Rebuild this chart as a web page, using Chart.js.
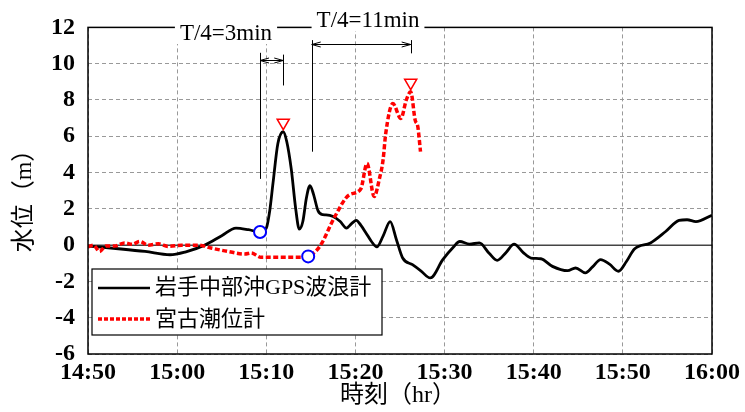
<!DOCTYPE html>
<html lang="ja">
<head>
<meta charset="UTF-8">
<title>水位 時系列</title>
<style>
  body { margin: 0; background: #fff; }
  canvas { display: block; }
</style>
</head>
<body>
<canvas id="wave-chart" width="745" height="412"></canvas>
<script src="https://cdn.jsdelivr.net/npm/chart.js"></script>
<script>
// time axis: minutes after 14:50
const xTickLabels = ['14:50', '15:00', '15:10', '15:20', '15:30', '15:40', '15:50', '16:00'];

// 岩手中部沖GPS波浪計
const gpsTime = [0, 3.4, 6.4, 9.2, 10.9, 13.1, 15, 16.6, 18, 19.3, 20, 20.4, 20.75, 21.3, 21.9, 22.3, 22.8, 23.3, 23.7,
  24.1, 24.5, 24.9, 25.3, 25.8, 26.3, 26.7, 27.5, 28.3, 29, 29.6, 30.1, 30.6, 31.2, 31.8, 32.4, 33.1, 33.9, 34.6, 35.3,
  36.4, 37.3, 38.4, 39.8, 41, 41.7, 42.8, 43.9, 45, 45.9, 46.9, 47.8, 48.8, 49.7, 50.8, 52.1, 53.8, 54.7, 55.8, 56.6,
  57.5, 58.5, 59.5, 60.4, 61.3, 63.1, 64.8, 66.3, 67.2, 68.2, 70];
const gpsLevel = [-0.05, -0.2, -0.35, -0.53, -0.38, 0, 0.52, 0.94, 0.85, 0.72, 0.94, 1.94, 3.4, 5.6, 6.25, 5.7, 4.2, 2.0, 0.88,
  1.3, 2.6, 3.28, 2.8, 1.9, 1.68, 1.67, 1.58, 1.3, 0.94, 1.2, 1.36, 1.1, 0.66, 0.2, -0.1, 0.5, 1.3, 0.3, -0.71,
  -1.08, -1.4, -1.81, -0.8, -0.1, 0.2, 0.06, 0.12, -0.45, -0.84, -0.4, 0.06, -0.4, -0.71, -0.75, -1.17, -1.41, -1.26, -1.53, -1.2,
  -0.8, -1.05, -1.44, -0.9, -0.21, 0.12, 0.75, 1.36, 1.4, 1.3, 1.65];

// 宮古潮位計
const tideTime = [0, 0.6, 1.3, 2.0, 3.0, 4.1, 5.0, 5.8, 6.75, 7.9, 9.0, 10.5, 12.4, 13.8, 15.7, 17.6, 18.3, 19.4, 24.0,
  24.7, 26.0, 27.7, 29.3, 30.6, 31.3, 32.1, 32.7, 33.1, 33.4, 34.2, 35.1, 35.7, 36.2, 36.7, 37.0, 37.3];
const tideLevel = [-0.1, 0, -0.35, -0.05, -0.05, 0.12, 0.05, 0.2, 0, 0.07, -0.07, 0, 0, -0.16, -0.35, -0.49, -0.43, -0.67, -0.67,
  -0.62, -0.07, 1.58, 2.77, 3.1, 4.5, 2.68, 3.68, 4.69, 6.16, 7.8, 6.98, 7.99, 8.45, 6.89, 6.52, 5.15];

// markers: arrival (circle) and maximum (triangle)
const arrivalTime = [19.3, 24.7];
const arrivalLevel = [0.72, -0.62];
const peakTime = [21.9, 36.2];
const peakLevel = [6.75, 8.95];

// T/4 annotation brackets (time, level range)
const bracketLines = [
  { t: 19.3, from: 3.65, to: 10.6 },
  { t: 21.9, from: 8.8, to: 10.5 },
  { t: 25.1, from: 5.15, to: 11.3 },
  { t: 36.2, from: 10.57, to: 11.3 }
];
const bracketArrows = [
  { from: 19.3, to: 21.9, level: 10.2 },
  { from: 25.1, to: 36.2, level: 11.1 }
];

const serif = '"Liberation Serif", "Noto Sans CJK JP", serif';

function pairs(xs, ys) {
  return xs.map((x, i) => ({ x: x, y: ys[i] }));
}

const overlay = {
  id: 'overlay',
  beforeDatasetsDraw(chart) {
    const { ctx, chartArea: a, scales: { y } } = chart;
    // zero line
    ctx.save();
    ctx.strokeStyle = '#444';
    ctx.lineWidth = 1.5;
    ctx.beginPath();
    ctx.moveTo(a.left, y.getPixelForValue(0));
    ctx.lineTo(a.right, y.getPixelForValue(0));
    ctx.stroke();
    ctx.restore();
  },
  afterDraw(chart) {
    const { ctx, chartArea: a, scales: { x, y } } = chart;
    ctx.save();

    // frame
    ctx.strokeStyle = '#000';
    ctx.lineWidth = 1.5;
    ctx.strokeRect(a.left, a.top, a.right - a.left, a.bottom - a.top);

    // bracket lines
    ctx.lineWidth = 1;
    ctx.strokeStyle = '#000';
    bracketLines.forEach(b => {
      const px = Math.round(x.getPixelForValue(b.t)) + 0.5;
      ctx.beginPath();
      ctx.moveTo(px, y.getPixelForValue(b.to));
      ctx.lineTo(px, y.getPixelForValue(b.from));
      ctx.stroke();
    });
    bracketArrows.forEach(b => {
      const x1 = x.getPixelForValue(b.from), x2 = x.getPixelForValue(b.to);
      const py = Math.round(y.getPixelForValue(b.level)) + 0.5;
      ctx.beginPath();
      ctx.moveTo(x1, py);
      ctx.lineTo(x2, py);
      ctx.stroke();
      [[x1, 1], [x2, -1]].forEach(([px, d]) => {
        ctx.beginPath();
        ctx.moveTo(px + d * 9, py - 2.5);
        ctx.lineTo(px, py);
        ctx.lineTo(px + d * 9, py + 2.5);
        ctx.stroke();
      });
    });

    // bracket texts with white background
    ctx.font = '23px ' + serif;
    ctx.textBaseline = 'middle';
    ctx.textAlign = 'center';
    [['T/4=3min', 226, 34], ['T/4=11min', 368, 21]].forEach(([s, cx, cy]) => {
      const w = ctx.measureText(s).width + 10;
      ctx.fillStyle = '#fff';
      ctx.fillRect(cx - w / 2, cy - 12, w, 22);
      ctx.fillStyle = '#000';
      ctx.fillText(s, cx, cy);
    });

    // legend
    const lx = 92, ly = 269, lw = 290, lh = 66;
    ctx.fillStyle = '#fff';
    ctx.fillRect(lx, ly, lw, lh);
    ctx.strokeStyle = '#000';
    ctx.lineWidth = 1.2;
    ctx.strokeRect(lx, ly, lw, lh);
    ctx.lineWidth = 2.5;
    ctx.beginPath();
    ctx.moveTo(98, 288);
    ctx.lineTo(150, 288);
    ctx.stroke();
    ctx.strokeStyle = '#ff0000';
    ctx.lineWidth = 3.5;
    ctx.setLineDash([4, 2]);
    ctx.beginPath();
    ctx.moveTo(98, 319);
    ctx.lineTo(150, 319);
    ctx.stroke();
    ctx.setLineDash([]);
    ctx.fillStyle = '#000';
    ctx.font = '22px ' + serif;
    ctx.textAlign = 'left';
    ctx.fillText('岩手中部沖GPS波浪計', 155, 288);
    ctx.fillText('宮古潮位計', 155, 320);

    // axis titles
    ctx.font = '24px ' + serif;
    ctx.textAlign = 'center';
    ctx.fillText('時刻（hr）', 398, 396);
    ctx.translate(25, 195);
    ctx.rotate(-Math.PI / 2);
    ctx.fillText('水位（m）', 0, 0);
    ctx.restore();
  }
};

const ctx = document.getElementById('wave-chart').getContext('2d');
new Chart(ctx, {
  type: 'line',
  data: {
    datasets: [
      {
        label: '到達',
        type: 'scatter',
        data: pairs(arrivalTime, arrivalLevel),
        pointStyle: 'circle',
        pointRadius: 6,
        borderColor: '#0000ff',
        backgroundColor: '#fff',
        borderWidth: 2,
        order: 0
      },
      {
        label: '最大',
        type: 'scatter',
        data: pairs(peakTime, peakLevel),
        pointStyle: 'triangle',
        rotation: 180,
        pointRadius: 7,
        borderColor: '#ff0000',
        backgroundColor: '#fff',
        borderWidth: 1.5,
        order: 0
      },
      {
        label: '岩手中部沖GPS波浪計',
        data: pairs(gpsTime, gpsLevel),
        borderColor: '#000',
        borderWidth: 2.8,
        pointRadius: 0,
        cubicInterpolationMode: 'monotone',
        order: 2
      },
      {
        label: '宮古潮位計',
        data: pairs(tideTime, tideLevel),
        borderColor: '#ff0000',
        borderWidth: 3.5,
        borderDash: [5, 2.5],
        pointRadius: 0,
        cubicInterpolationMode: 'monotone',
        order: 1
      }
    ]
  },
  options: {
    responsive: false,
    animation: false,
    layout: { padding: { left: 0, right: 33, top: 27, bottom: 0 } },
    plugins: {
      legend: { display: false },
      tooltip: { enabled: false }
    },
    scales: {
      x: {
        type: 'linear',
        min: 0,
        max: 70,
        afterFit: s => { s.height = 58; },
        grid: { color: '#999', lineWidth: 1, drawTicks: false },
        border: { display: false, dash: [4, 3] },
        ticks: {
          stepSize: 10,
          autoSkip: false,
          maxRotation: 0,
          padding: 4,
          color: '#000',
          font: { family: serif, size: 24, weight: 'bold' },
          callback: v => xTickLabels[Math.round(v / 10)]
        }
      },
      y: {
        min: -6,
        max: 12,
        afterFit: s => { s.width = 88; },
        grid: { color: '#999', lineWidth: 1, drawTicks: false },
        border: { display: false, dash: [4, 3] },
        ticks: {
          stepSize: 2,
          padding: 13,
          color: '#000',
          font: { family: serif, size: 24, weight: 'bold' },
          callback: v => String(v)
        }
      }
    }
  },
  plugins: [overlay]
});
</script>
</body>
</html>
